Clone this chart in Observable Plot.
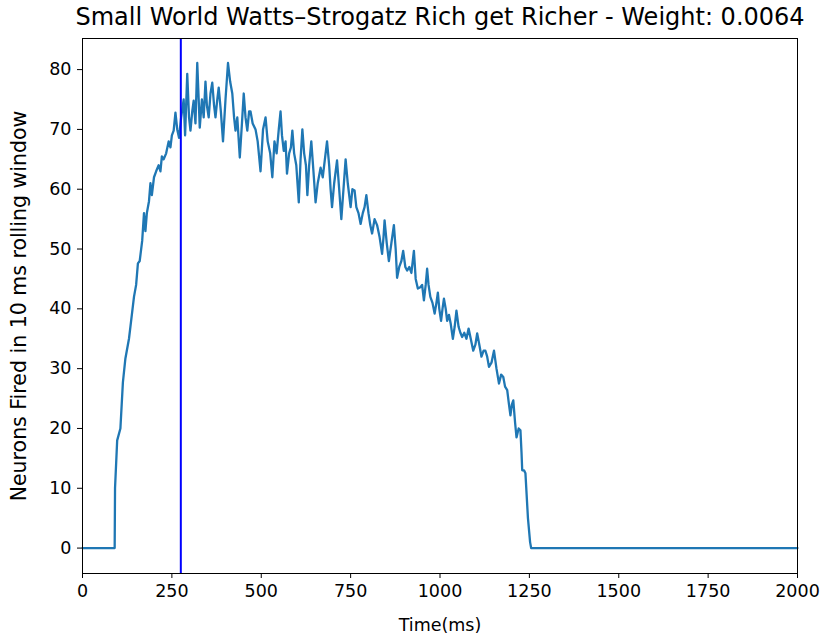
<!DOCTYPE html>
<html>
<head>
<meta charset="utf-8">
<script src="https://cdn.jsdelivr.net/npm/d3@7"></script>
<script src="https://cdn.jsdelivr.net/npm/@observablehq/plot@0.6"></script>
<style>
  html, body { margin: 0; padding: 0; background: #fff; }
  #chart { width: 825px; height: 637px; }
</style>
</head>
<body>
<div id="chart"></div>
<script>
const titleText = "Small World Watts\u2013Strogatz Rich get Richer - Weight: 0.0064";
const xLabel = "Time(ms)";
const yLabel = "Neurons Fired in 10 ms rolling window";
const xTicks = [0, 250, 500, 750, 1000, 1250, 1500, 1750, 2000];
const yTicks = [0, 10, 20, 30, 40, 50, 60, 70, 80];
const markerTime = [275];

const timeMs = [
  0, 90, 91, 97, 106, 113, 120, 130, 134, 144, 150, 155, 160, 167, 172, 176, 180, 186, 190, 194,
  200, 206, 213, 218, 222, 227, 234, 241, 246, 250, 255, 260, 265, 270, 276, 283, 287, 293, 298, 302,
  307, 311, 316, 321, 325, 328, 334, 339, 344, 348, 353, 358, 363, 368, 372, 377, 381, 387, 393, 400,
  407, 413, 419, 424, 428, 433, 440, 446, 451, 456, 461, 466, 470, 476, 484, 490, 498, 505, 512, 518,
  525, 531, 537, 543, 549, 554, 558, 563, 568, 572, 578, 583, 587, 592, 598, 605, 610, 615, 620, 625,
  629, 634, 640, 646, 652, 658, 666, 672, 678, 684, 690, 694, 698, 704, 712, 718, 724, 730, 736, 742,
  750, 755, 761, 766, 772, 778, 784, 789, 794, 800, 805, 810, 817, 824, 831, 838, 842, 845, 851, 857,
  864, 871, 876, 880, 886, 892, 897, 903, 908, 914, 920, 927, 932, 938, 945, 950, 955, 960, 964, 968,
  973, 979, 985, 990, 994, 998, 1003, 1007, 1011, 1016, 1020, 1025, 1030, 1036, 1041, 1046, 1052, 1057, 1062, 1068,
  1074, 1080, 1086, 1093, 1099, 1104, 1110, 1116, 1122, 1127, 1132, 1137, 1144, 1151, 1158, 1165, 1171, 1177, 1182, 1188,
  1193, 1197, 1201, 1205, 1210, 1214, 1220, 1225, 1228, 1230, 1235, 1239, 1246, 1252, 1255, 2000
];
const neuronsFired = [
  0, 0, 10, 18, 20, 27.7, 31.7, 35, 37, 42, 44, 47.6, 48, 51.4, 56, 53, 56, 58, 61, 59,
  62, 63, 64, 63, 65.5, 65, 66, 68, 67, 69, 69.8, 72.8, 70, 68.6, 72, 75, 69, 79.3, 72, 69.8,
  73, 74.8, 71, 81.1, 75, 70.3, 75, 72, 78, 74, 72, 76, 77.8, 74, 72, 75, 77, 73, 68, 75,
  81.1, 78, 76, 72, 69.8, 72, 65.3, 71, 76, 72, 69.8, 73, 73, 71, 70, 68, 63, 70, 72, 68,
  66, 62, 68, 66, 70, 73, 69, 66.4, 68, 62.6, 66, 67, 69.8, 66, 64, 57.8, 65, 70, 66, 64,
  59, 64, 68, 63, 57.8, 61, 63.6, 62, 65, 68, 64, 60, 57, 61, 64.8, 60, 55, 60, 65, 61,
  57, 60, 59.8, 57, 56, 54.2, 56, 57, 59, 56, 54, 52.6, 55, 54, 52, 49.2, 52, 54.8, 51, 48,
  51, 54, 50, 45.2, 47, 48, 49.7, 47, 46.4, 47, 46, 49.7, 45, 43.4, 43.6, 44, 41.4, 44, 46.7, 44,
  42, 41, 39.2, 41, 42.7, 40, 38, 40, 41.7, 40, 38, 39, 37.5, 35, 37, 39.7, 37, 36, 35.3, 36,
  35, 36.7, 35, 33, 34, 35.9, 34, 32, 33, 33, 32, 30.3, 31, 33, 30, 27.5, 29, 28.6, 27, 26.4,
  24, 22.2, 24, 24.7, 21, 18.5, 20, 19.7, 16, 13, 13, 12.5, 5, 1, 0, 0
];

const data = timeMs.map((t, i) => ({t, v: neuronsFired[i]}));

const chart = Plot.plot({
  width: 825,
  height: 637,
  marginTop: 38,
  marginBottom: 64,
  marginLeft: 82,
  marginRight: 28,
  style: {fontFamily: "DejaVu Sans", fontSize: "18px", color: "#000", background: "#fff"},
  x: {domain: [0, 2000]},
  y: {domain: [-4.25, 85.2]},
  marks: [
    Plot.axisX({ticks: xTicks, tickFormat: "d", tickSize: 5, tickPadding: 6, fontSize: 17.5, label: null}),
    Plot.axisX({ticks: [], tickSize: 0, fontSize: 17.5,
      label: xLabel, labelAnchor: "center", labelArrow: "none", labelOffset: 57}),
    Plot.axisY({ticks: yTicks, tickFormat: "d", tickSize: 5, tickPadding: 6, fontSize: 17.5, label: null}),
    Plot.axisY({ticks: [], tickSize: 0, fontSize: 20.5,
      label: yLabel, labelAnchor: "center", labelArrow: "none", labelOffset: 71}),
    Plot.line(data, {x: "t", y: "v", stroke: "#1f77b4", strokeWidth: 2.3}),
    Plot.ruleX(markerTime, {stroke: "blue", strokeWidth: 2}),
    Plot.frame({stroke: "#000", strokeWidth: 1}),
    Plot.text([titleText], {frameAnchor: "top", lineAnchor: "middle", dy: -21, fontSize: 24, fill: "#000"})
  ]
});
document.getElementById("chart").appendChild(chart);
</script>
</body>
</html>
